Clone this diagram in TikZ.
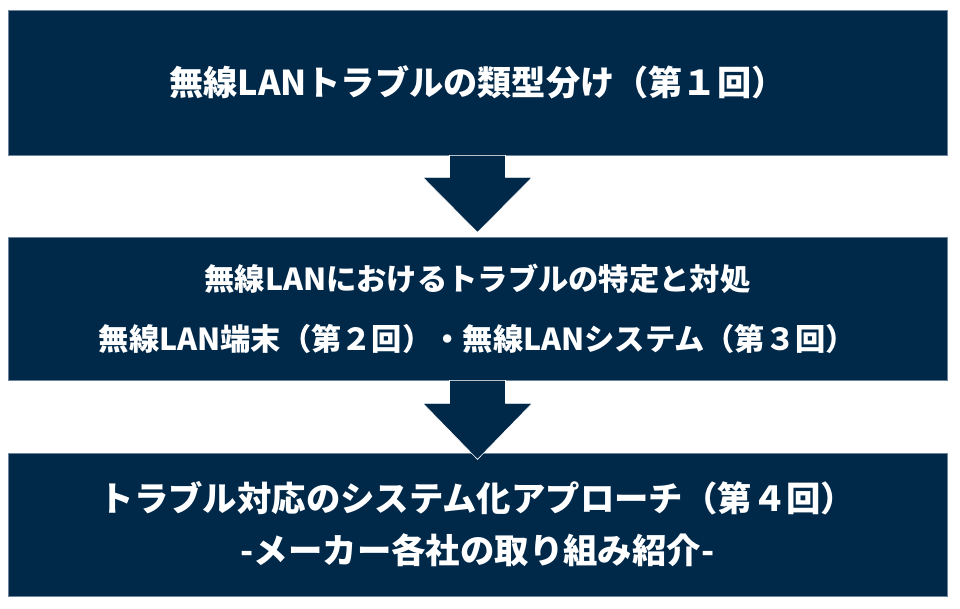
\documentclass[tikz,border=0pt]{standalone}
\usepackage{fontspec}
\setmainfont{Noto Sans CJK JP}
\usepackage{tikz}
\usetikzlibrary{positioning, calc}

\definecolor{navy}{RGB}{0,40,73}
\definecolor{navyedge}{RGB}{110,132,155}

\begin{document}
\begin{tikzpicture}[
    x=1pt, y=1pt,
    stagebox/.style={
        draw=navyedge, line width=0.8pt, fill=navy,
        minimum width=939pt, minimum height=145pt,
        inner sep=0pt, align=center, text=white, font=\bfseries
    },
    downarrow/.style={
        fill=navy, draw=white, line width=0.6pt, line join=miter
    }
]
\useasboundingbox (0,0) rectangle (960,-609);

% --- Step 1 ---
\node[stagebox, font=\bfseries\fontsize{34.2}{40}\selectfont] (b1) at (477.5,-82.5)
    {無線LANトラブルの類型分け（第１回）};

% --- Step 2 ---
\node[stagebox, minimum height=143pt, font=\bfseries\fontsize{30.3}{60}\selectfont] (b2) at (477.5,-308.5)
    {無線LANにおけるトラブルの特定と対処\\
     無線LAN端末（第２回）・無線LANシステム（第３回）};

% --- Step 3 ---
\node[stagebox, minimum height=143pt, font=\bfseries\fontsize{34.4}{52}\selectfont] (b3) at (477.5,-524.5)
    {トラブル対応のシステム化アプローチ（第４回）\\
     -メーカー各社の取り組み紹介-};

% --- Down arrows ---
\draw[downarrow] ($(b1.south)+(-28,0)$) -- ($(b1.south)+(28,0)$)
    -- ($(b1.south)+(28,-22)$) -- ($(b1.south)+(54.5,-22)$)
    -- ($(b1.south)+(0,-77)$)
    -- ($(b1.south)+(-54.5,-22)$) -- ($(b1.south)+(-28,-22)$) -- cycle;
\draw[downarrow] ($(b2.south)+(-28,0)$) -- ($(b2.south)+(28,0)$)
    -- ($(b2.south)+(28,-23)$) -- ($(b2.south)+(54.5,-23)$)
    -- ($(b2.south)+(0,-79)$)
    -- ($(b2.south)+(-54.5,-23)$) -- ($(b2.south)+(-28,-23)$) -- cycle;

\end{tikzpicture}
\end{document}
